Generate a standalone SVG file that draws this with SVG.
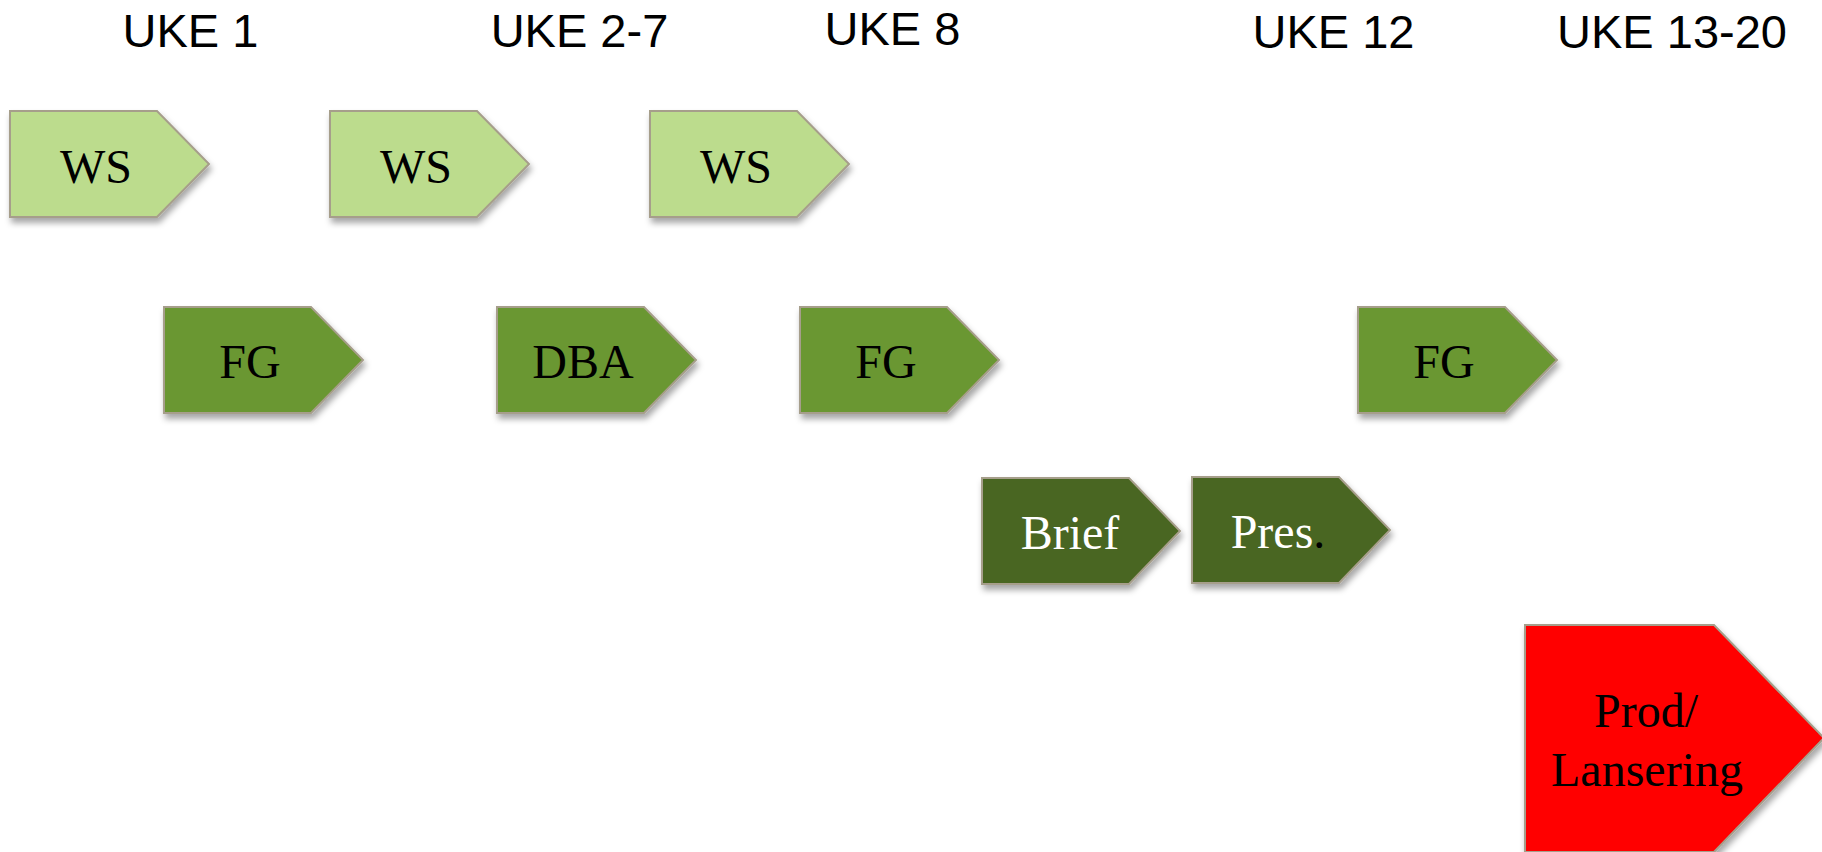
<svg xmlns="http://www.w3.org/2000/svg" width="1822" height="852" viewBox="0 0 1822 852">
<defs>
<filter id="sh" x="-20%" y="-20%" width="140%" height="150%">
<feDropShadow dx="2" dy="5" stdDeviation="3" flood-color="#000" flood-opacity="0.35"/>
</filter>
</defs>
<style>
.hdr{font-family:"Liberation Sans",Arial,sans-serif;font-size:47px;fill:#000;text-anchor:middle}
.lbl{font-family:"Liberation Serif","Times New Roman",serif;font-size:48px;text-anchor:middle}
.shape{stroke:#a69e8b;stroke-width:2;filter:url(#sh)}
.light{fill:#bcdc8d}
.mid{fill:#6b9730}
.dark{fill:#4a6621}
.red{fill:#ff0000}
.blk{fill:#000}
.wht{fill:#fff}
</style>
<rect width="1822" height="852" fill="#fff"/>
<g id="headers">
<text class="hdr" x="190.5" y="47">UKE 1</text>
<text class="hdr" x="579.5" y="47">UKE 2-7</text>
<text class="hdr" x="892.5" y="45">UKE 8</text>
<text class="hdr" x="1333.5" y="48">UKE 12</text>
<text class="hdr" x="1672" y="48">UKE 13-20</text>
</g>
<g id="connectors"></g>
<g id="ws1">
<path class="shape light" d="M10,111 H157 L209,164 L157,217 H10 Z"/>
<text class="lbl blk" x="96" y="183">WS</text>
</g>
<g id="ws2">
<path class="shape light" d="M330,111 H477 L529,164 L477,217 H330 Z"/>
<text class="lbl blk" x="416" y="183">WS</text>
</g>
<g id="ws3">
<path class="shape light" d="M650,111 H797 L849,164 L797,217 H650 Z"/>
<text class="lbl blk" x="736" y="183">WS</text>
</g>
<g id="fg1">
<path class="shape mid" d="M164,307 H311 L363,360 L311,413 H164 Z"/>
<text class="lbl blk" x="250" y="378">FG</text>
</g>
<g id="dba">
<path class="shape mid" d="M497,307 H644 L696,360 L644,413 H497 Z"/>
<text class="lbl blk" x="583" y="378">DBA</text>
</g>
<g id="fg2">
<path class="shape mid" d="M800,307 H947 L999,360 L947,413 H800 Z"/>
<text class="lbl blk" x="886" y="378">FG</text>
</g>
<g id="fg3">
<path class="shape mid" d="M1358,307 H1505 L1557,360 L1505,413 H1358 Z"/>
<text class="lbl blk" x="1444" y="378">FG</text>
</g>
<g id="brief">
<path class="shape dark" d="M982,478 H1129 L1180,531 L1129,584 H982 Z"/>
<text class="lbl wht" x="1070" y="549">Brief</text>
</g>
<g id="pres">
<path class="shape dark" d="M1192,477 H1339 L1390,530 L1339,583 H1192 Z"/>
<text class="lbl wht" x="1278" y="548">Pres<tspan class="blk">.</tspan></text>
</g>
<g id="prod">
<path class="shape red" d="M1525,625 H1714 L1824,738 L1714,852 H1525 Z"/>
<text class="lbl blk" x="1646" y="727">Prod/</text>
<text class="lbl blk" x="1647" y="786">Lansering</text>
</g>
</svg>
